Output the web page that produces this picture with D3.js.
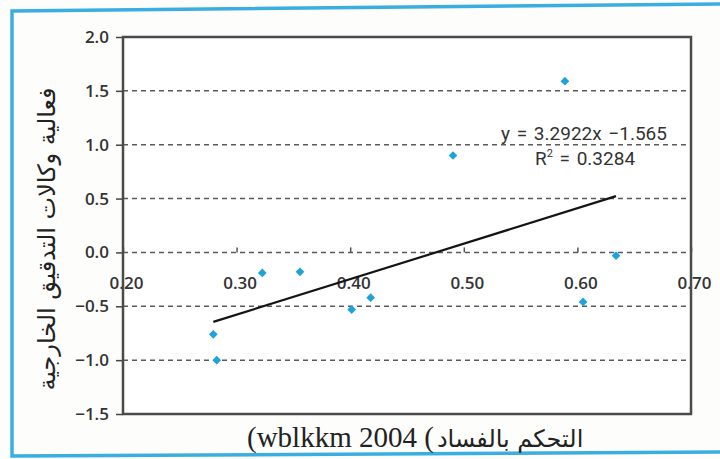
<!DOCTYPE html>
<html>
<head>
<meta charset="utf-8">
<script src="https://cdn.jsdelivr.net/npm/d3@7"></script>
<style>
  body { margin: 0; background: #fdfdfb; }
  svg { display: block; }
</style>
</head>
<body>
<svg id="chart" width="720" height="459"></svg>
<script>
// Tick values for both axes
const xTicks = [0.20, 0.30, 0.40, 0.50, 0.60, 0.70];
const yTicks = [-1.5, -1.0, -0.5, 0.0, 0.5, 1.0, 1.5, 2.0];

// Control of corruption (x) vs. effectiveness of external audit agencies (y)
const controlScores = [0.2795, 0.2825, 0.3226, 0.3558, 0.4013, 0.418, 0.4905, 0.589, 0.605, 0.634];
const auditScores   = [-0.76, -1.00, -0.19, -0.18, -0.53, -0.42, 0.90, 1.59, -0.46, -0.03];

// Linear trend line
const slope = 3.2922;
const intercept = -1.565;
const rSquared = 0.3284;

// Titles
const yTitle = "فعالية وكالات التدقيق الخارجية";
const xTitleLatin = "(wblkkm 2004 (";
const xTitleArabic = "التحكم بالفساد";

const svg = d3.select("#chart");
const plot = { left: 123, right: 691, top: 37, bottom: 414 };

const x = d3.scaleLinear().domain([0.2, 0.7]).range([plot.left, plot.right]);
const y = d3.scaleLinear().domain([-1.5, 2.0]).range([plot.bottom, plot.top]);

// Outer blue frame
svg.append("path")
  .attr("d", "M722,4 L12,11 L12,456 L722,452")
  .attr("fill", "none")
  .attr("stroke", "#3aaee0")
  .attr("stroke-width", 3.5);

// Plot background
svg.append("rect")
  .attr("x", plot.left).attr("y", plot.top)
  .attr("width", plot.right - plot.left).attr("height", plot.bottom - plot.top)
  .attr("fill", "#ffffff");

// Dashed horizontal gridlines
svg.append("g")
  .selectAll("line")
  .data(yTicks.filter(d => d > -1.5 && d < 2.0))
  .join("line")
  .attr("x1", plot.left).attr("x2", plot.right)
  .attr("y1", d => y(d)).attr("y2", d => y(d))
  .attr("stroke", "#5a5a5a")
  .attr("stroke-width", 1.5)
  .attr("stroke-dasharray", "5,4");

// Y axis (left)
const yAxis = svg.append("g")
  .attr("transform", `translate(${plot.left},0)`)
  .call(d3.axisLeft(y).tickValues(yTicks).tickFormat(d3.format(".1f")).tickSize(7).tickPadding(7));
yAxis.select(".domain").remove();
yAxis.selectAll(".tick line").attr("stroke", "#444").attr("stroke-width", 1.5);
yAxis.selectAll(".tick text")
  .attr("fill", "#333")
  .style("font-family", "'Open Sans', sans-serif")
  .style("font-weight", 600)
  .style("font-size", "17px");

// X axis crossing at y = 0, ticks pointing up, labels below
const xAxis = svg.append("g")
  .attr("transform", `translate(0,${y(0)})`)
  .call(d3.axisBottom(x).tickValues(xTicks).tickFormat(d3.format(".2f")).tickSizeInner(-5).tickSizeOuter(0).tickPadding(25));
xAxis.select(".domain").remove();
xAxis.selectAll(".tick line").attr("stroke", "#555").attr("stroke-width", 1.5);
xAxis.selectAll(".tick text")
  .attr("dx", 3)
  .attr("fill", "#333")
  .style("font-family", "'Open Sans', sans-serif")
  .style("font-weight", 600)
  .style("font-size", "17px");

// Plot border
svg.append("rect")
  .attr("x", plot.left).attr("y", plot.top)
  .attr("width", plot.right - plot.left).attr("height", plot.bottom - plot.top)
  .attr("fill", "none")
  .attr("stroke", "#4a4a4a")
  .attr("stroke-width", 2.5);

// Trend line over the data's x range
const xExtent = d3.extent(controlScores);
svg.append("path")
  .datum(xExtent)
  .attr("d", d3.line().x(d => x(d)).y(d => y(slope * d + intercept)))
  .attr("stroke", "#141414")
  .attr("stroke-width", 2.2)
  .attr("fill", "none");

// Data points (diamonds)
svg.append("g")
  .selectAll("path")
  .data(controlScores.map((d, i) => [d, auditScores[i]]))
  .join("path")
  .attr("transform", d => `translate(${x(d[0])},${y(d[1])}) rotate(45)`)
  .attr("d", d3.symbol().type(d3.symbolSquare).size(38))
  .attr("fill", "#1ea2dc");

// Trend equation
const eq = svg.append("g")
  .attr("fill", "#333")
  .style("font-family", "Roboto, sans-serif")
  .style("font-size", "19px")
  .style("word-spacing", "2px")
  .attr("text-anchor", "middle");
eq.append("text")
  .attr("x", 584).attr("y", 140)
  .text(`y = ${slope}x −${Math.abs(intercept)}`);
const r2 = eq.append("text").attr("x", 585).attr("y", 165);
r2.append("tspan").text("R");
r2.append("tspan").attr("dy", -8).style("font-size", "11px").text("2");
r2.append("tspan").attr("dy", 8).text(` = ${rSquared}`);

// Y axis title (rotated)
svg.append("text")
  .attr("transform", `translate(55,${239}) rotate(-90)`)
  .attr("text-anchor", "middle")
  .attr("fill", "#222")
  .style("font-family", "'DejaVu Sans', sans-serif")
  .style("font-size", "24px")
  .text(yTitle);

// X axis title: Latin part, then the Arabic part right after it
const xtLatin = svg.append("text")
  .attr("x", 247).attr("y", 447)
  .attr("direction", "ltr")
  .attr("fill", "#222")
  .style("font-family", "'Liberation Serif', serif")
  .style("font-size", "29px")
  .text(xTitleLatin);
const latinWidth = xtLatin.node().getComputedTextLength();
svg.append("text")
  .attr("x", 247 + latinWidth + 3).attr("y", 447)
  .attr("fill", "#222")
  .style("font-family", "'DejaVu Sans', sans-serif")
  .style("font-size", "24px")
  .text(xTitleArabic);
</script>
</body>
</html>
